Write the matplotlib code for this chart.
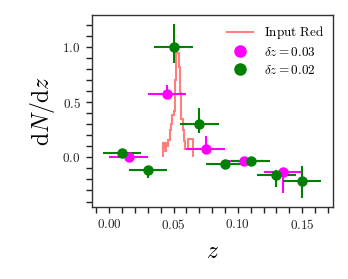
import numpy as np
import matplotlib
matplotlib.use("Agg")
import matplotlib.pyplot as plt
from matplotlib.ticker import MultipleLocator, FuncFormatter
from matplotlib.lines import Line2D

plt.rcParams['mathtext.fontset'] = 'cm'
plt.rcParams['font.family'] = ['DejaVu Serif']

# Input red histogram
red_edges = [0.042, 0.043, 0.044, 0.045, 0.046, 0.047, 0.048, 0.049, 0.050, 0.051,
             0.052, 0.053, 0.054, 0.055, 0.056, 0.057, 0.058, 0.059, 0.060, 0.061,
             0.0615, 0.065]
red_vals = [0.13, 0.06, 0.13, 0.10, 0.16, 0.25, 0.30, 0.38, 0.42, 0.70,
            0.95, 0.95, 0.82, 0.58, 0.35, 0.25, 0.15, 0.08, 0.08, 0.12, 0.17]

# delta z = 0.03
pink_x = [0.015, 0.045, 0.075, 0.105, 0.135]
pink_y = [0.0, 0.575, 0.08, -0.03, -0.135]
pink_xerr = [0.015, 0.015, 0.015, 0.015, 0.015]
pink_ylo = [0.02, 0.03, 0.05, 0.02, 0.19]
pink_yhi = [0.02, 0.08, 0.11, 0.02, 0.03]

# delta z = 0.02
green_x = [0.01, 0.03, 0.05, 0.07, 0.09, 0.11, 0.13, 0.15]
green_y = [0.04, -0.115, 1.0, 0.30, -0.063, -0.035, -0.16, -0.21]
green_xerr = [0.015] * 8
green_ylo = [0.02, 0.075, 0.14, 0.075, 0.03, 0.02, 0.105, 0.16]
green_yhi = [0.02, 0.03, 0.21, 0.145, 0.02, 0.02, 0.045, 0.13]

labels = [r'$\mathrm{Input\ Red}$', r'$\delta z = 0.03$', r'$\delta z = 0.02$']

fig = plt.figure(figsize=(3.48, 2.79), dpi=100)
ax = fig.add_axes([0.264, 0.258, 0.693, 0.688])

ax.stairs(red_vals, red_edges, color='red', alpha=0.5, lw=1.5)
ax.errorbar(pink_x, pink_y, xerr=pink_xerr, yerr=[pink_ylo, pink_yhi],
            fmt='o', color='magenta', ms=6.5, lw=1.5, capsize=0)
ax.errorbar(green_x, green_y, xerr=green_xerr, yerr=[green_ylo, green_yhi],
            fmt='o', color='green', ms=6.5, lw=1.5, capsize=0)

ax.set_xlim(-0.0135, 0.174)
ax.set_ylim(-0.45, 1.29)
ax.xaxis.set_major_locator(MultipleLocator(0.05))
ax.xaxis.set_minor_locator(MultipleLocator(0.01))
ax.yaxis.set_major_locator(MultipleLocator(0.5))
ax.yaxis.set_minor_locator(MultipleLocator(0.1))
ax.xaxis.set_major_formatter(FuncFormatter(lambda v, p: r'$%.2f$' % v))
ax.yaxis.set_major_formatter(FuncFormatter(lambda v, p: r'$%.1f$' % v))
ax.tick_params(which='both', direction='out', length=4.5, width=1, labelsize=9.5,
               colors='#222222')
ax.tick_params(which='both', top=False, right=False)
for s in ax.spines.values():
    s.set_color('#333333')
    s.set_linewidth(1.0)

ax.set_xlabel(r'$z$', fontsize=17, labelpad=6)
ax.set_ylabel(r'$\mathrm{d}N/\mathrm{d}z$', fontsize=17, labelpad=4)

handles = [Line2D([], [], color='red', alpha=0.5, lw=1.5),
           Line2D([], [], color='magenta', marker='o', ls='none', ms=8),
           Line2D([], [], color='green', marker='o', ls='none', ms=8)]
ax.legend(handles, labels, loc='upper right', frameon=False, fontsize=9.5,
          handlelength=2.0, borderaxespad=0.3, labelspacing=0.35)

fig.savefig('out.png', dpi=100)
